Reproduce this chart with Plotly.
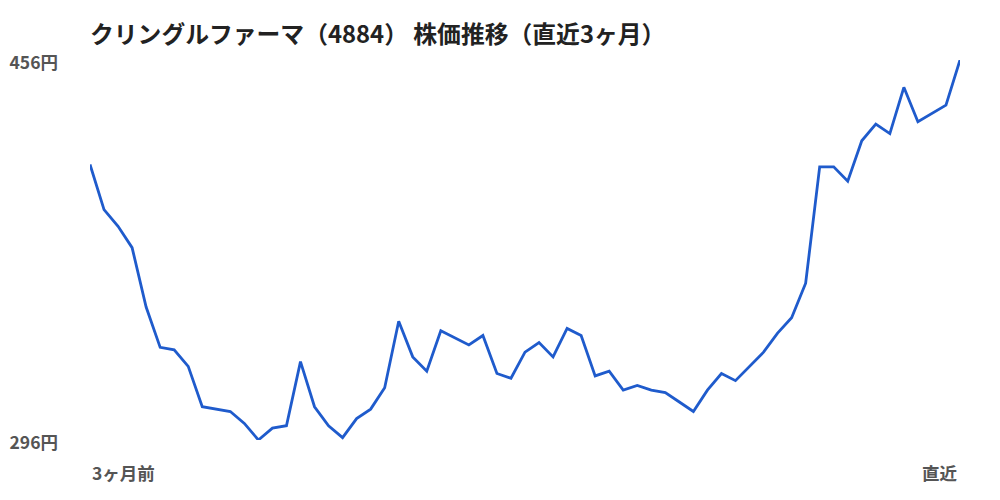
"""
クリングルファーマ（4884）株価推移チャート
plotly で直近3ヶ月の終値を折れ線で描く
"""

import plotly.graph_objects as go

# === データ ===
title_text = "クリングルファーマ（4884） 株価推移（直近3ヶ月）"
x_labels = ["3ヶ月前", "直近"]
y_unit = "円"

# 終値（円）: 3ヶ月前 → 直近
close_prices = [
    412, 393, 386, 377, 352, 335, 334, 327, 310, 309,
    308, 303, 296, 301, 302, 329, 310, 302, 297, 305,
    309, 318, 346, 331, 325, 342, 339, 336, 340, 324,
    322, 333, 337, 331, 343, 340, 323, 325, 317, 319,
    317, 316, 312, 308, 317, 324, 321, 327, 333, 341,
    347.5, 362, 411, 411, 405, 422, 429, 425, 444.5, 430,
    433.5, 437, 456,
]
days = list(range(len(close_prices)))

LINE_COLOR = "#1f5bcc"
TEXT_COLOR = "#555555"
FONT = "Noto Sans CJK JP"

y_min = min(close_prices)
y_max = max(close_prices)

fig = go.Figure()

fig.add_trace(
    go.Scatter(
        x=days, y=close_prices,
        mode="lines",
        line=dict(color=LINE_COLOR, width=2.8),
        showlegend=False,
        hoverinfo="skip",
    )
)

# x軸ラベル（左端・右端）
fig.add_annotation(
    x=days[0], y=0, xref="x", yref="paper",
    yshift=-32, text=f"<b>{x_labels[0]}</b>",
    xanchor="left", yanchor="middle", showarrow=False,
    font=dict(family=FONT, size=17.5, color=TEXT_COLOR),
)
fig.add_annotation(
    x=days[-1], y=0, xref="x", yref="paper",
    yshift=-32, text=f"<b>{x_labels[1]}</b>",
    xanchor="right", yanchor="middle", showarrow=False,
    font=dict(family=FONT, size=17.5, color=TEXT_COLOR),
)

fig.update_layout(
    title=dict(
        text=f"<b>{title_text}</b>",
        x=0, xref="paper", xanchor="left",
        y=0.946, yanchor="middle",
        font=dict(family=FONT, size=23.8, color="#222222"),
    ),
    width=1000, height=500,
    margin=dict(l=82, r=48, t=52, b=68),
    plot_bgcolor="white",
    paper_bgcolor="white",
    font=dict(family=FONT),
)

fig.update_xaxes(
    range=[days[0], days[-1]],
    showgrid=False, zeroline=False, showline=False,
    showticklabels=False, ticks="", automargin=False,
)
fig.update_yaxes(
    range=[y_min, y_max],
    tickvals=[y_min, y_max],
    ticktext=[f"<b>{y_min:g}{y_unit}</b>", f"<b>{y_max:g}{y_unit}</b>"],
    tickfont=dict(family=FONT, size=17.5, color=TEXT_COLOR),
    ticklabelstandoff=31,
    ticklabelshift=3,
    showgrid=False, zeroline=False, showline=False, ticks="",
    automargin=False,
)

fig.write_html("out.html")
